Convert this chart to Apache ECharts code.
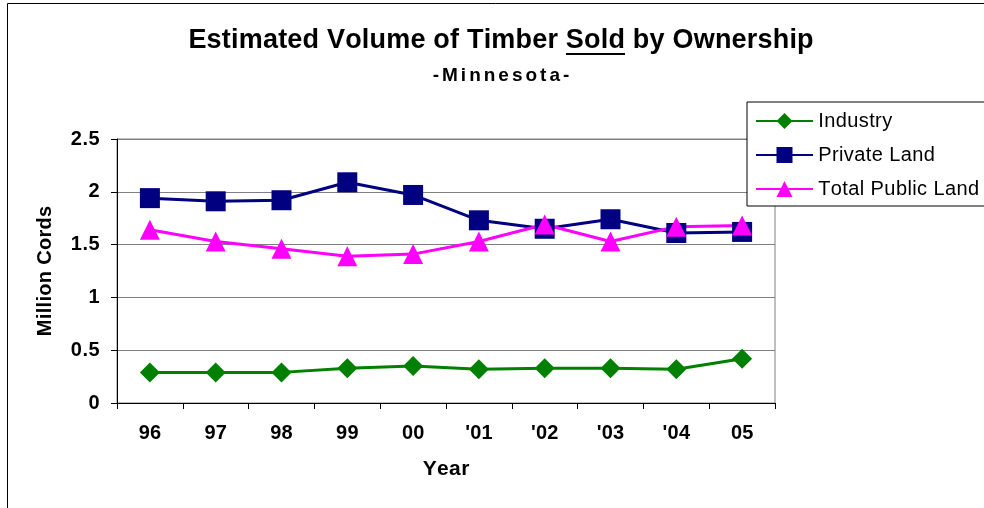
<!DOCTYPE html>
<html>
<head>
<meta charset="utf-8">
<script src="https://cdn.jsdelivr.net/npm/echarts@6/dist/echarts.min.js"></script>
<style>html,body{margin:0;padding:0;background:#fff}#c{width:984px;height:508px}</style>
</head>
<body>
<div id="c"></div>
<script>
// ---- data ----
var years = ['96', '97', '98', '99', '00', "'01", "'02", "'03", "'04", '05'];
var industry = [0.29, 0.29, 0.29, 0.33, 0.35, 0.32, 0.33, 0.33, 0.32, 0.42];
var privateLand = [1.94, 1.91, 1.92, 2.09, 1.97, 1.73, 1.65, 1.74, 1.61, 1.62];
var publicLand = [1.64, 1.53, 1.46, 1.39, 1.41, 1.53, 1.69, 1.53, 1.67, 1.68];
var seriesNames = ['Industry', 'Private Land', 'Total Public Land'];
var yMin = 0, yMax = 2.5, yStep = 0.5;
var titleText = 'Estimated Volume of Timber Sold by Ownership';
var subtitleText = '-Minnesota-';
var xName = 'Year', yName = 'Million Cords';

var FF = '"Liberation Sans", Arial, sans-serif';
function sp(s, k) { return s.split('').map(function (c) { return '{' + k + '|' + c + '}'; }).join(''); }

var chart = echarts.init(document.getElementById('c'), null, { renderer: 'canvas' });
chart.setOption({
  animation: false,
  backgroundColor: '#fff',
  grid: { left: 117, right: 209, top: 139, bottom: 105, show: true, borderColor: '#808080', borderWidth: 1, backgroundColor: 'transparent' },
  graphic: [
    { type: 'line', shape: { x1: 7.5, y1: 3.5, x2: 984, y2: 3.5 }, style: { stroke: '#000', lineWidth: 1 } },
    { type: 'line', shape: { x1: 7.5, y1: 3.5, x2: 7.5, y2: 508 }, style: { stroke: '#000', lineWidth: 1 } },
    { type: 'text', x: 501, y: 41, style: { text: sp(titleText, 't'), align: 'center', verticalAlign: 'middle', fill: '#000',
        rich: { t: { fontSize: 27, fontWeight: 'bold', fontFamily: FF, padding: [0, 0.1, 0, 0.1], fill: '#000' } } } },
    { type: 'line', shape: { x1: 566, y1: 54, x2: 625, y2: 54 }, style: { stroke: '#000', lineWidth: 2 } },
    { type: 'text', x: 501, y: 76, style: { text: sp(subtitleText, 's'), align: 'center', verticalAlign: 'middle', fill: '#000',
        rich: { s: { fontSize: 19, fontWeight: 'bold', fontFamily: FF, padding: [0, 1.5, 0, 1.5], fill: '#000' } } } }
  ],
  legend: {
    orient: 'vertical', left: 747, top: 102,
    padding: [9, 40, 7, 8], itemGap: 14, itemWidth: 57, itemHeight: 20,
    borderColor: '#000', borderWidth: 1, backgroundColor: '#fff',
    data: seriesNames,
    formatter: function (n) { return sp(n, 'l'); },
    textStyle: { color: '#000', fontFamily: FF, fontSize: 20, lineHeight: 20,
      rich: { l: { fontSize: 20, fontFamily: FF, color: '#000', padding: [0, 0.2, 0, 0.2] } } }
  },
  xAxis: {
    type: 'category', data: years, boundaryGap: true,
    name: sp(xName, 'n'), nameLocation: 'middle', nameGap: 56,
    nameTextStyle: { rich: { n: { fontSize: 21, fontWeight: 'bold', fontFamily: FF, color: '#000', padding: [0, 0.2, 0, 0.2] } } },
    axisLine: { lineStyle: { color: '#000', width: 1 } },
    axisTick: { show: true, length: 6, interval: 0, alignWithLabel: false, lineStyle: { color: '#000' } },
    axisLabel: { margin: 20, interval: 0, formatter: function (v) { return sp(v, 'x'); },
      rich: { x: { fontSize: 20, fontWeight: 'bold', fontFamily: FF, color: '#000', padding: [0, 0.1, 0, 0.1] } } },
    splitLine: { show: false }
  },
  yAxis: {
    type: 'value', min: yMin, max: yMax, interval: yStep,
    name: sp(yName, 'n'), nameLocation: 'middle', nameGap: 62, nameRotate: 90,
    nameTextStyle: { rich: { n: { fontSize: 20, fontWeight: 'bold', fontFamily: FF, color: '#000', padding: [0, 0.15, 0, 0.15] } } },
    axisLine: { show: true, lineStyle: { color: '#000', width: 1 } },
    axisTick: { show: true, length: 6, lineStyle: { color: '#000' } },
    axisLabel: { margin: 17, formatter: function (v) { return sp(String(v), 'y'); },
      rich: { y: { fontSize: 20, fontWeight: 'bold', fontFamily: FF, color: '#000', padding: [0, 0.3, 0, 0.3] } } },
    splitLine: { show: true, lineStyle: { color: '#808080', width: 1 } }
  },
  series: [
    { name: seriesNames[0], type: 'line', data: industry, symbol: 'diamond', symbolSize: 20,
      lineStyle: { color: '#008000', width: 3 }, itemStyle: { color: '#008000' } },
    { name: seriesNames[1], type: 'line', data: privateLand, symbol: 'rect', symbolSize: 20,
      lineStyle: { color: '#000080', width: 3 }, itemStyle: { color: '#000080' } },
    { name: seriesNames[2], type: 'line', data: publicLand, symbol: 'triangle', symbolSize: 20,
      lineStyle: { color: '#FF00FF', width: 3 }, itemStyle: { color: '#FF00FF' } }
  ]
});
</script>
</body>
</html>
